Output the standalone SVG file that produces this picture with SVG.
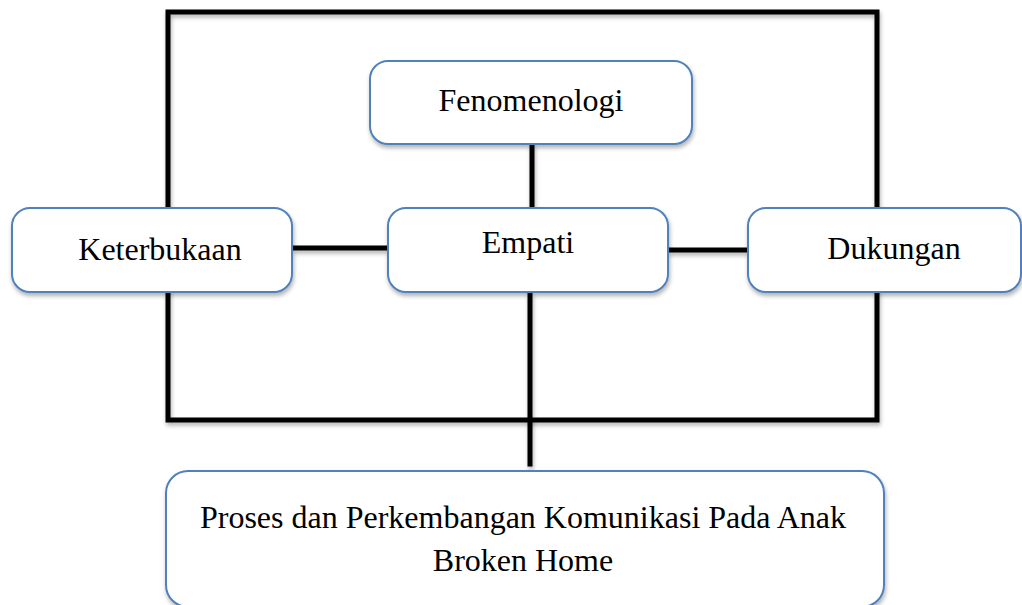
<svg xmlns="http://www.w3.org/2000/svg" width="1022" height="605" viewBox="0 0 1022 605">
<defs>
<filter id="sh" filterUnits="userSpaceOnUse" x="0" y="0" width="1022" height="605">
<feDropShadow dx="1" dy="3" stdDeviation="2" flood-color="#000" flood-opacity="0.3"/>
</filter>
<style>
.node rect{fill:#fff;stroke:#4f81bd;stroke-width:2;filter:url(#sh)}
.node text{font-family:"Liberation Serif","Times New Roman",serif;font-size:32px;fill:#000;text-anchor:middle}
.conn{fill:none;stroke:#000;stroke-width:5;stroke-linecap:square;stroke-linejoin:miter;filter:url(#sh)}
</style>
</defs>
<rect width="1022" height="605" fill="#fff"/>
<g id="connectors">
<path class="conn" d="M168 208 V12 H877 V208"/>
<path class="conn" d="M168 292 V420 H877 V292"/>
<path class="conn" d="M532 146 V207"/>
<path class="conn" d="M295 248 H385"/>
<path class="conn" d="M671 250 H745"/>
<path class="conn" d="M530 295 V464"/>
</g>
<g id="fenomenologi" class="node">
<rect x="370" y="61" width="322" height="83" rx="18"/>
<text x="531" y="111">Fenomenologi</text>
</g>
<g id="keterbukaan" class="node">
<rect x="12" y="208" width="280" height="84" rx="18"/>
<text x="160" y="260">Keterbukaan</text>
</g>
<g id="empati" class="node">
<rect x="388" y="208" width="280" height="84" rx="18"/>
<text x="528" y="253">Empati</text>
</g>
<g id="dukungan" class="node">
<rect x="748" y="208" width="273" height="84" rx="18"/>
<text x="894" y="259">Dukungan</text>
</g>
<g id="proses" class="node">
<rect x="166" y="471" width="718" height="136" rx="22"/>
<text x="523" y="528">Proses dan Perkembangan Komunikasi Pada Anak</text>
<text x="523" y="571">Broken Home</text>
</g>
</svg>
